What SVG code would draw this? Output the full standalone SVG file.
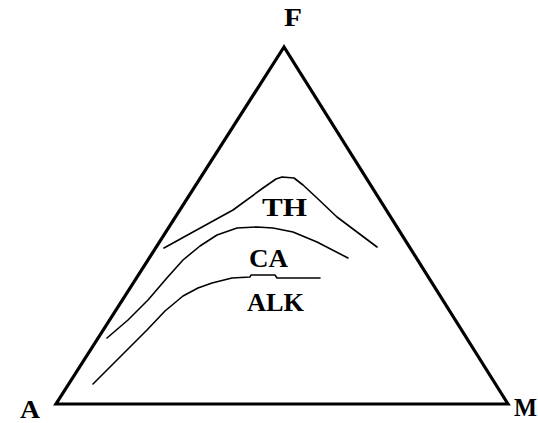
<svg xmlns="http://www.w3.org/2000/svg" width="538" height="423" viewBox="0 0 538 423">
<style>
.tri{fill:none;stroke:#000;stroke-width:3.2;stroke-linejoin:miter}
.crv{fill:none;stroke:#000;stroke-width:1.6;stroke-linejoin:round;stroke-linecap:round}
.lbl{font-family:"Liberation Serif","Times New Roman",serif;font-weight:bold;font-size:25px;fill:#000}
</style>
<rect width="538" height="423" fill="#fff"/>
<g id="triangle">
<polygon class="tri" points="284,47 56,404 508,404"/>
</g>
<g id="curves">
<polyline id="th-curve" class="crv" points="164,248 193,232 233,210 263,188 276,179 282,177 294,178 303,185 317,198 337,217 357,232 377,247"/>
<polyline id="ca-curve" class="crv" points="107,338 128,320 148,300 166,279 183,260 200,246 217,235 237,228 257,227 273,228 293,232 317,242 348,258"/>
<polyline id="alk-curve" class="crv" points="93,384 120,357 147,330 165,311 183,296 198,288 212,283 232,278 250,277 251,275 275,275 277,278 320,278"/>
</g>
<g id="labels">
<text class="lbl" x="284" y="26" textLength="18" lengthAdjust="spacingAndGlyphs">F</text>
<text class="lbl" x="20" y="418" textLength="20" lengthAdjust="spacingAndGlyphs">A</text>
<text class="lbl" x="514" y="416" textLength="23" lengthAdjust="spacingAndGlyphs">M</text>
<text class="lbl" x="262" y="216" textLength="45" lengthAdjust="spacingAndGlyphs">TH</text>
<text class="lbl" x="249" y="267" textLength="39" lengthAdjust="spacingAndGlyphs">CA</text>
<text class="lbl" x="247" y="311" font-size="22" textLength="57" lengthAdjust="spacingAndGlyphs">ALK</text>
</g>
</svg>
